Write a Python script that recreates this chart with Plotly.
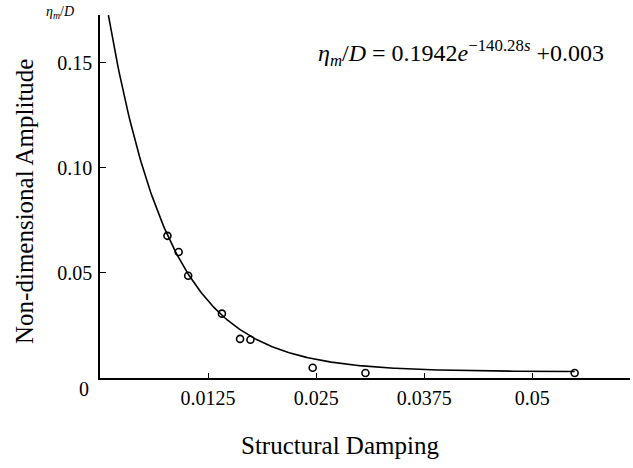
import numpy as np
import plotly.graph_objects as go

# Measured points: structural damping vs non-dimensional amplitude
damping = [0.0078, 0.0091, 0.0102, 0.0141, 0.0162, 0.0174, 0.0246, 0.0307, 0.0549]
amplitude = [0.0676, 0.0599, 0.0486, 0.0306, 0.0186, 0.0182, 0.0049, 0.0024, 0.0024]

# Fitted curve  eta_m/D = A * exp(-k s) + c
fit_A = 0.1942
fit_k = 140.28
fit_c = 0.003

x_ticks = [0.0125, 0.025, 0.0375, 0.05]
x_ticklabels = ["0.0125", "0.025", "0.0375", "0.05"]
y_ticks = [0.05, 0.10, 0.15]
y_ticklabels = ["0.05", "0.10", "0.15"]

s = np.linspace(0.00097, damping[-1], 300)
fit = fit_A * np.exp(-fit_k * s) + fit_c

FONT = "Liberation Serif, Times New Roman, serif"

fig = go.Figure()
fig.add_trace(go.Scatter(x=s, y=fit, mode="lines",
                         line=dict(color="black", width=1.6),
                         hoverinfo="skip", showlegend=False))
fig.add_trace(go.Scatter(x=damping, y=amplitude, mode="markers",
                         marker=dict(symbol="circle-open", size=7,
                                     color="black", line=dict(width=1.6)),
                         showlegend=False))

fig.update_layout(
    width=633, height=468,
    margin=dict(l=100, r=3, t=15, b=90),
    paper_bgcolor="white", plot_bgcolor="white",
    font=dict(family=FONT, color="black", size=20),
    xaxis=dict(range=[0, 0.0613], tickvals=x_ticks, ticktext=x_ticklabels,
               showgrid=False, zeroline=False, showline=True,
               linecolor="black", linewidth=1.6,
               ticks="inside", ticklen=5, tickwidth=1.2, tickcolor="black",
               tickfont=dict(family=FONT, size=20), ticklabelstandoff=1),
    yaxis=dict(range=[0, 0.1726], tickvals=y_ticks, ticktext=y_ticklabels,
               showgrid=False, zeroline=False, showline=True,
               linecolor="black", linewidth=1.6,
               ticks="inside", ticklen=6, tickwidth=1.2, tickcolor="black",
               tickfont=dict(family=FONT, size=20), ticklabelstandoff=2),
)

# axis titles
fig.add_annotation(x=0.453, y=-(445 - 378) / 363, xref="paper", yref="paper",
                   text="Structural Damping",
                   showarrow=False, xanchor="center", yanchor="middle",
                   font=dict(family=FONT, size=25))
fig.add_annotation(x=-(100 - 25) / 530, y=0.485, xref="paper", yref="paper",
                   text="Non-dimensional Amplitude", textangle=-90,
                   showarrow=False, xanchor="center", yanchor="middle",
                   font=dict(family=FONT, size=25))

# origin label
fig.add_annotation(x=0, y=0, xref="x", yref="y", text="0", showarrow=False,
                   xanchor="right", yanchor="middle", xshift=-9, yshift=-11,
                   font=dict(family=FONT, size=20))

# axis quantity label above the y axis
fig.add_annotation(x=0, y=1, xref="paper", yref="paper",
                   text="<i>η<sub>m</sub></i>/<i>D</i>", showarrow=False,
                   xanchor="right", yanchor="middle", xshift=-24, yshift=3,
                   font=dict(family=FONT, size=14))

# fitted equation
fig.add_annotation(x=0.955, y=0.895, xref="paper", yref="paper",
                   text="<i>η<sub>m</sub></i>/<i>D</i> = 0.1942<i>e</i><sup>−140.28<i>s</i></sup> +0.003",
                   showarrow=False, xanchor="right", yanchor="middle",
                   font=dict(family=FONT, size=24))

fig.write_html("out.html")
